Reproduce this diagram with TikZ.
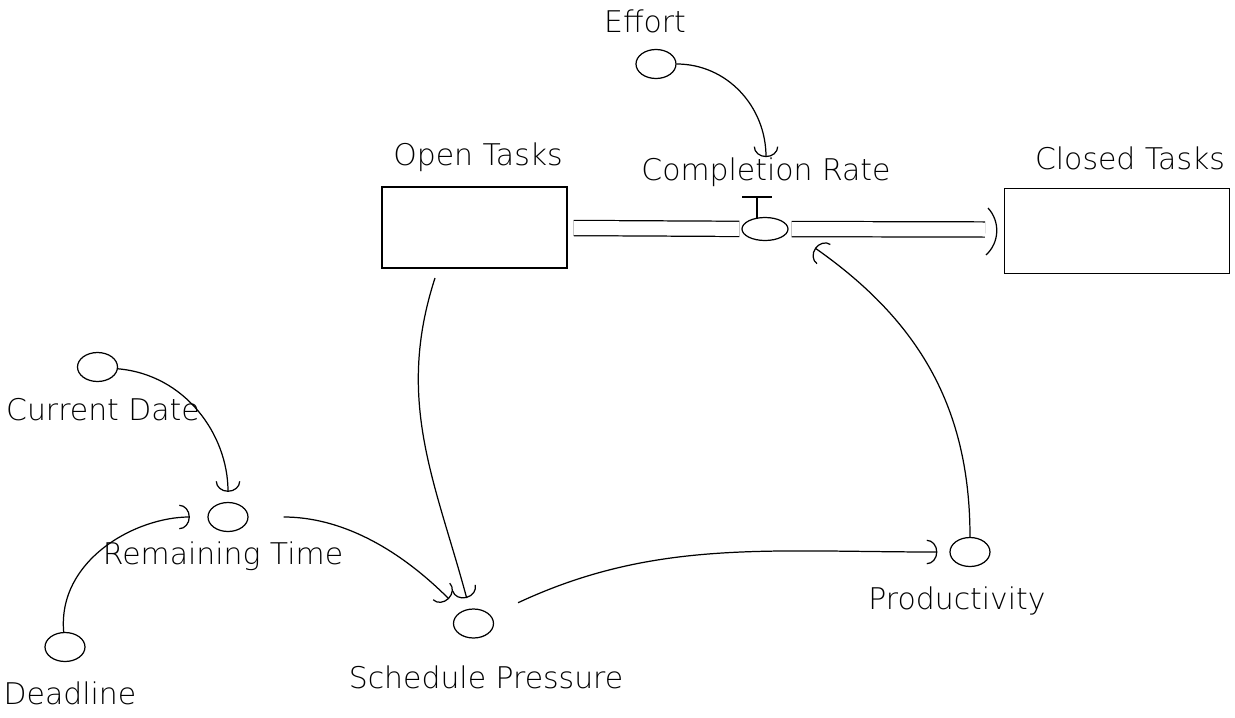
\documentclass[tikz,border=0pt]{standalone}
\usepackage{fontspec}
\setmainfont{DejaVu Sans}[UprightFont={* ExtraLight}]
\usetikzlibrary{shapes.geometric,arrows.meta}

\begin{document}
\begin{tikzpicture}[scale=1]
% Styles
\tikzstyle{none} = []
\tikzstyle{varname}=[font=\fontsize{17}{20}\selectfont, inner sep=0cm]
\tikzstyle{aux}=[draw, shape=ellipse, line width=0.7pt, minimum width=0.8cm, minimum height=0.58cm, inner sep=0cm]
\tikzstyle{valve}=[draw, shape=ellipse, line width=0.7pt, minimum width=0.92cm, minimum height=0.46cm, inner sep=0cm]
\tikzstyle{stock}=[draw, shape=rectangle, line width=0.7pt, inner sep=0cm]
\tikzstyle{link}=[-{Arc Barb[length=6pt, width=14pt]}, line width=0.7pt]
\tikzstyle{pipe}=[double, double distance=0.28cm, line width=0.7pt]
\tikzstyle{handle}=[-, line width=0.7pt]

\useasboundingbox (0,0) rectangle (24.7,-14.34);

\node [style=stock, minimum width=3.7cm, minimum height=1.62cm] (1) at (9.49,-4.55) {};
\node [style=stock, minimum width=4.5cm, minimum height=1.7cm] (2) at (22.34,-4.62) {};
\node [style=valve] (3) at (15.3,-4.58) {};
\node [style=aux] (4) at (13.12,-1.28) {};
\node [style=aux] (5) at (1.95,-7.34) {};
\node [style=aux] (6) at (4.56,-10.34) {};
\node [style=aux] (7) at (1.3,-12.94) {};
\node [style=aux] (8) at (9.47,-12.47) {};
\node [style=aux] (9) at (19.4,-11.04) {};

\node [style=varname] (10) at (9.56,-3.14) {Open Tasks};
\node [style=varname] (11) at (15.32,-3.44) {Completion Rate};
\node [style=varname] (12) at (22.6,-3.16) {Closed Tasks};
\node [style=varname] (13) at (12.9,-0.42) {Effort};
\node [style=varname] (14) at (2.06,-8.2) {Current Date};
\node [style=varname] (15) at (4.46,-11.12) {Remaining Time};
\node [style=varname] (16) at (1.4,-13.86) {Deadline};
\node [style=varname] (17) at (9.72,-13.54) {Schedule Pressure};
\node [style=varname] (18) at (19.14,-12.02) {Productivity};

\node [style=none] (19) at (14.84,-3.94) {};
\node [style=none] (20) at (15.44,-3.94) {};
\node [style=none] (21) at (15.14,-3.94) {};
\node [style=none] (22) at (15.14,-4.36) {};
\node [style=none] (23) at (19.7,-4.59) {};
\node [style=none] (24) at (19.76,-4.16) {};
\node [style=none] (25) at (19.72,-5.1) {};
\node [style=none] (26) at (8.7,-5.56) {};
\node [style=none] (27) at (16.3,-4.96) {};

% flow
\draw [style=pipe, shorten <=0.12cm, shorten >=0.04cm] (1) to (3);
\draw [style=pipe, shorten <=0.06cm] (3) to (23.center);
\draw [style=handle, bend left=45] (24.center) to (25.center);
\draw [style=handle] (19.center) to (20.center);
\draw [style=handle] (21.center) to (22.center);

% links
\draw [style=link, out=0, in=90] (4) to (11);
\draw [style=link, out=-5, in=90, shorten >=0.2cm] (5) to (6);
\draw [style=link, out=95, in=180, shorten >=0.35cm] (7) to (6);
\draw [style=link, out=0, in=135, shorten <=0.7cm, shorten >=0.35cm] (6) to (8);
\draw [style=link, out=-108, in=105, shorten >=0.22cm] (26.center) to (8);
\draw [style=link, out=25, in=180, shorten <=0.6cm, shorten >=0.24cm] (8) to (9);
\draw [style=link, out=90, in=-35] (9) to (27.center);
\end{tikzpicture}
\end{document}
